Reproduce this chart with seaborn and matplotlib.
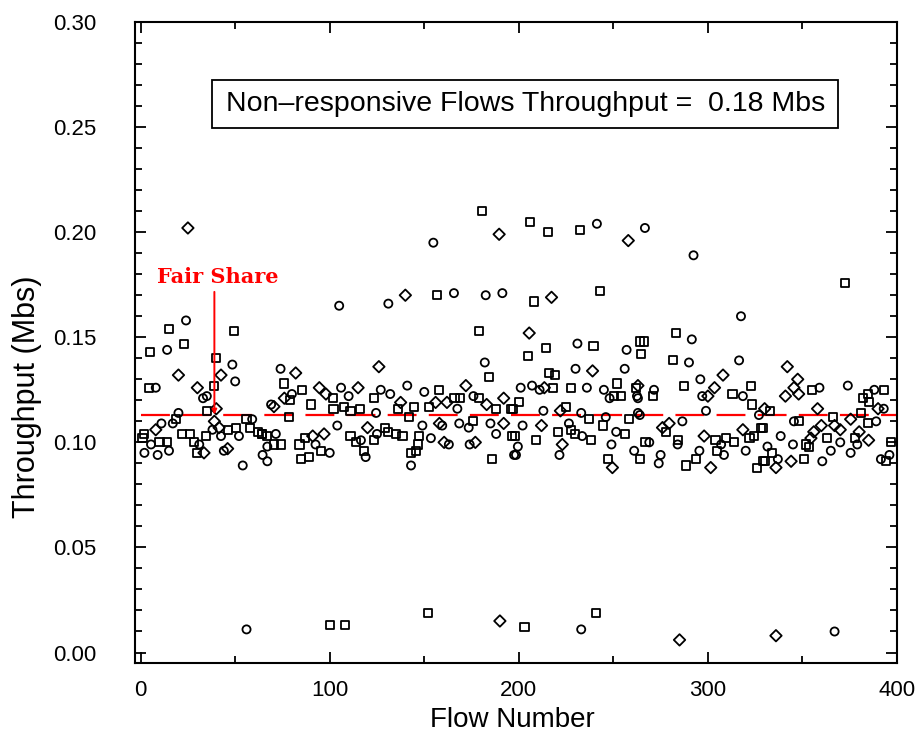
import pandas as pd
import seaborn as sns
import matplotlib
matplotlib.use('Agg')
import matplotlib.pyplot as plt
from matplotlib.patches import Rectangle
from matplotlib.ticker import MultipleLocator, FormatStrFormatter

# flows drawn with circles
circle_flow = [24, 14, 48.5, 50, 8, 33, 35, 20, 11, 59, 38, 42.5, 52, 5.5, 15, 2, 9, 44, 54, 64.5, 31, 17,
               105, 74, 80, 69, 106, 110, 124.5, 127, 104, 71.5, 67, 92.5, 100, 116.5, 119, 125, 67,
               131, 182, 132, 141, 150, 167.5, 176, 149, 159.5, 168.5, 173.5, 185, 188, 153.5, 163, 174, 143, 197.5,
               231, 257, 230, 256, 201, 207, 211, 236, 245, 248, 262.5, 213, 233, 246, 263, 202, 226.5, 233.5,
               251.5, 249, 261, 199.5, 198.5, 221.5,
               317.5, 291.5, 290, 316.5, 296, 271.5, 297, 318.5, 263, 299, 264, 327, 286.5, 284, 269, 307,
               320, 295.5, 274, 275, 308.5,
               359, 374, 345.5, 388, 393, 389, 338.5, 345, 370, 379, 375.5, 331.5, 337, 360.5, 365, 391.5, 396,
               154.8, 165.7, 182.5, 191.3, 241.3, 266.7, 292.4,
               56, 233, 367]
circle_tput = [0.158, 0.144, 0.137, 0.129, 0.126, 0.121, 0.122, 0.114, 0.109, 0.111, 0.106, 0.103, 0.103, 0.099,
               0.096, 0.095, 0.094, 0.096, 0.089, 0.094, 0.099, 0.109,
               0.165, 0.135, 0.123, 0.118, 0.126, 0.122, 0.114, 0.125, 0.108, 0.104, 0.098, 0.099, 0.095, 0.101,
               0.093, 0.104, 0.091,
               0.166, 0.138, 0.123, 0.127, 0.124, 0.116, 0.122, 0.108, 0.108, 0.109, 0.107, 0.109, 0.104, 0.102,
               0.099, 0.099, 0.089, 0.094,
               0.147, 0.144, 0.135, 0.135, 0.126, 0.127, 0.125, 0.126, 0.125, 0.121, 0.122, 0.115, 0.114, 0.112,
               0.114, 0.108, 0.109, 0.103, 0.105, 0.099, 0.096, 0.098, 0.094, 0.094,
               0.160, 0.149, 0.138, 0.139, 0.130, 0.125, 0.122, 0.122, 0.121, 0.115, 0.113, 0.113, 0.110, 0.099,
               0.100, 0.099, 0.096, 0.096, 0.090, 0.094, 0.094,
               0.126, 0.127, 0.110, 0.125, 0.116, 0.110, 0.103, 0.099, 0.100, 0.099, 0.095, 0.098, 0.092, 0.091,
               0.096, 0.092, 0.094,
               0.195, 0.171, 0.170, 0.171, 0.204, 0.202, 0.189,
               0.011, 0.011, 0.010]

# flows drawn with squares
square_flow = [15, 23, 5, 49.5, 40, 4.5, 39, 35, 18.5, 56, 58, 62, 50.5, 46, 34.5, 22, 26, 28, 2, 10, 14, 30, 64, 1,
               76, 85.5, 79, 90, 78.5, 101.5, 102, 107.5, 111, 116, 123.5, 129, 64, 67, 70.5, 74, 84, 87, 85, 89,
               111, 114, 118, 123.5, 95.5,
               179, 184, 158, 144.5, 136, 152.5, 166, 169, 179, 188, 196, 142, 176, 196.5, 131, 135, 138.5, 147,
               146.5, 145.5, 143, 186,
               208, 214.5, 239.5, 264, 205, 216, 219, 218, 227.5, 252, 250.5, 254, 262, 200, 197, 225, 237, 258.5,
               227.5, 244.5, 220.5, 229.5, 198, 209, 238, 256, 247,
               283, 266, 264.5, 281.5, 287.5, 323, 271, 313, 323.5, 278, 284, 267, 304, 309.5, 314, 322, 324.5,
               328, 293.5, 288.5, 264, 305, 326, 330,
               355, 333, 348, 366, 381, 382, 384.5, 393, 385, 384.5, 329, 363, 378, 397, 352, 353.5, 334, 351,
               394, 329,
               180.7, 156.6, 206, 215.6, 232.3, 243.1, 372.7,
               100, 108, 152, 203, 241]
square_tput = [0.154, 0.147, 0.143, 0.153, 0.140, 0.126, 0.127, 0.115, 0.111, 0.111, 0.107, 0.105, 0.107, 0.106,
               0.103, 0.104, 0.104, 0.100, 0.104, 0.100, 0.100, 0.095, 0.104, 0.102,
               0.128, 0.125, 0.120, 0.118, 0.112, 0.121, 0.116, 0.117, 0.115, 0.116, 0.121, 0.107, 0.104, 0.103,
               0.099, 0.099, 0.099, 0.102, 0.092, 0.093, 0.103, 0.100, 0.096, 0.101, 0.096,
               0.153, 0.131, 0.125, 0.117, 0.116, 0.117, 0.121, 0.121, 0.121, 0.116, 0.116, 0.112, 0.110, 0.103,
               0.105, 0.104, 0.103, 0.103, 0.099, 0.096, 0.095, 0.092,
               0.167, 0.145, 0.146, 0.148, 0.141, 0.133, 0.132, 0.126, 0.126, 0.128, 0.122, 0.122, 0.126, 0.119,
               0.116, 0.117, 0.111, 0.111, 0.106, 0.108, 0.105, 0.104, 0.103, 0.101, 0.101, 0.104, 0.092,
               0.152, 0.148, 0.142, 0.139, 0.127, 0.127, 0.122, 0.123, 0.118, 0.105, 0.101, 0.100, 0.101, 0.102,
               0.100, 0.102, 0.103, 0.107, 0.092, 0.089, 0.092, 0.096, 0.088, 0.091,
               0.125, 0.115, 0.110, 0.112, 0.114, 0.121, 0.123, 0.125, 0.119, 0.109, 0.107, 0.102, 0.102, 0.100,
               0.099, 0.098, 0.095, 0.092, 0.091, 0.091,
               0.210, 0.170, 0.205, 0.200, 0.201, 0.172, 0.176,
               0.013, 0.013, 0.019, 0.012, 0.019]

# flows drawn with diamonds
diamond_flow = [42.5, 20, 30, 40, 39, 41.5, 8, 33.5, 46,
                82, 126, 76, 70.5, 94.5, 115, 98, 120, 91, 97,
                137.5, 156, 162, 172, 183, 192, 158, 192, 160.5, 177,
                205.5, 239, 213.5, 222, 212, 223, 249.5,
                308, 263, 303.5, 300, 279.5, 276, 298, 318.5, 301.5,
                342, 347.5, 345.5, 341, 348, 330, 358, 375.5, 390, 360, 367, 370, 380, 356, 354.5, 385, 344, 336,
                25, 140, 189.6, 217.3, 257.9,
                190, 285, 336]
diamond_tput = [0.132, 0.132, 0.126, 0.116, 0.110, 0.107, 0.106, 0.095, 0.097,
                0.133, 0.136, 0.121, 0.117, 0.126, 0.126, 0.123, 0.107, 0.103, 0.104,
                0.119, 0.119, 0.119, 0.127, 0.118, 0.121, 0.109, 0.109, 0.100, 0.100,
                0.152, 0.134, 0.126, 0.115, 0.108, 0.099, 0.088,
                0.132, 0.127, 0.126, 0.122, 0.109, 0.107, 0.103, 0.106, 0.088,
                0.136, 0.130, 0.126, 0.122, 0.123, 0.116, 0.116, 0.111, 0.116, 0.108, 0.108, 0.106, 0.105, 0.105,
                0.102, 0.101, 0.091, 0.088,
                0.202, 0.170, 0.199, 0.169, 0.196,
                0.015, 0.006, 0.008]

fair_share = 0.1132
fair_flow = 39
box_text = 'Non\u2013responsive Flows Throughput =  0.18 Mbs'

df = pd.concat([
    pd.DataFrame({'Flow': circle_flow, 'Throughput': circle_tput, 'Kind': 'circle'}),
    pd.DataFrame({'Flow': square_flow, 'Throughput': square_tput, 'Kind': 'square'}),
    pd.DataFrame({'Flow': diamond_flow, 'Throughput': diamond_tput, 'Kind': 'diamond'}),
], ignore_index=True)

sns.set_theme(style='ticks')
plt.rcParams['font.family'] = ['Liberation Sans', 'DejaVu Sans']
plt.rcParams['text.color'] = 'black'
plt.rcParams['axes.labelcolor'] = 'black'

fig = plt.figure(figsize=(9.15, 7.34), dpi=100)
ax = fig.add_axes([0.1475, 0.0967, 0.8328, 0.8733])

sns.scatterplot(data=df, x='Flow', y='Throughput', style='Kind',
                markers={'circle': 'o', 'square': 's', 'diamond': 'D'},
                color='black', facecolor='none', edgecolor='black', linewidth=1.3,
                s=34, legend=False, ax=ax, zorder=3)

# fair share line and label
ax.hlines(fair_share, 0, 400, colors='red', linestyles=(0, (13, 5.5)), linewidth=1.6, zorder=2)
ax.annotate('', xy=(fair_flow, fair_share), xytext=(fair_flow, 0.1716),
            arrowprops=dict(arrowstyle='-|>', color='red', lw=1.4, mutation_scale=7,
                            shrinkA=0, shrinkB=0), zorder=4)
ax.text(41, 0.1787, 'Fair Share', color='red', fontweight='bold', fontsize=15,
        family=['DejaVu Serif'], ha='center', va='center')

# annotation box
ax.add_patch(Rectangle((38, 0.2498), 331, 0.0227, facecolor='white', edgecolor='black', lw=1.3, zorder=5))
ax.text(203.5, 0.2612, box_text, ha='center', va='center', fontsize=20.5, color='black', zorder=6)

ax.set_xlim(-3, 400)
ax.set_ylim(-0.005, 0.30)
ax.xaxis.set_major_locator(MultipleLocator(100))
ax.xaxis.set_minor_locator(MultipleLocator(50))
ax.yaxis.set_major_locator(MultipleLocator(0.05))
ax.yaxis.set_minor_locator(MultipleLocator(0.01))
ax.yaxis.set_major_formatter(FormatStrFormatter('%.2f'))
ax.tick_params(which='both', direction='in', top=True, right=True, width=1.3, colors='black')
ax.tick_params(which='major', length=8, labelsize=16)
ax.tick_params(which='minor', length=5)
ax.tick_params(axis='x', which='major', pad=12)
ax.tick_params(axis='y', which='major', pad=28)
for sp in ax.spines.values():
    sp.set_linewidth(1.5)
    sp.set_color('black')

ax.set_xlabel('Flow Number', fontsize=20, color='black')
ax.set_ylabel('Throughput (Mbs)', fontsize=22, color='black')
ax.xaxis.set_label_coords(0.495, -0.068)
ax.yaxis.set_label_coords(-0.122, 0.415)

fig.savefig('out.png', dpi=100)
